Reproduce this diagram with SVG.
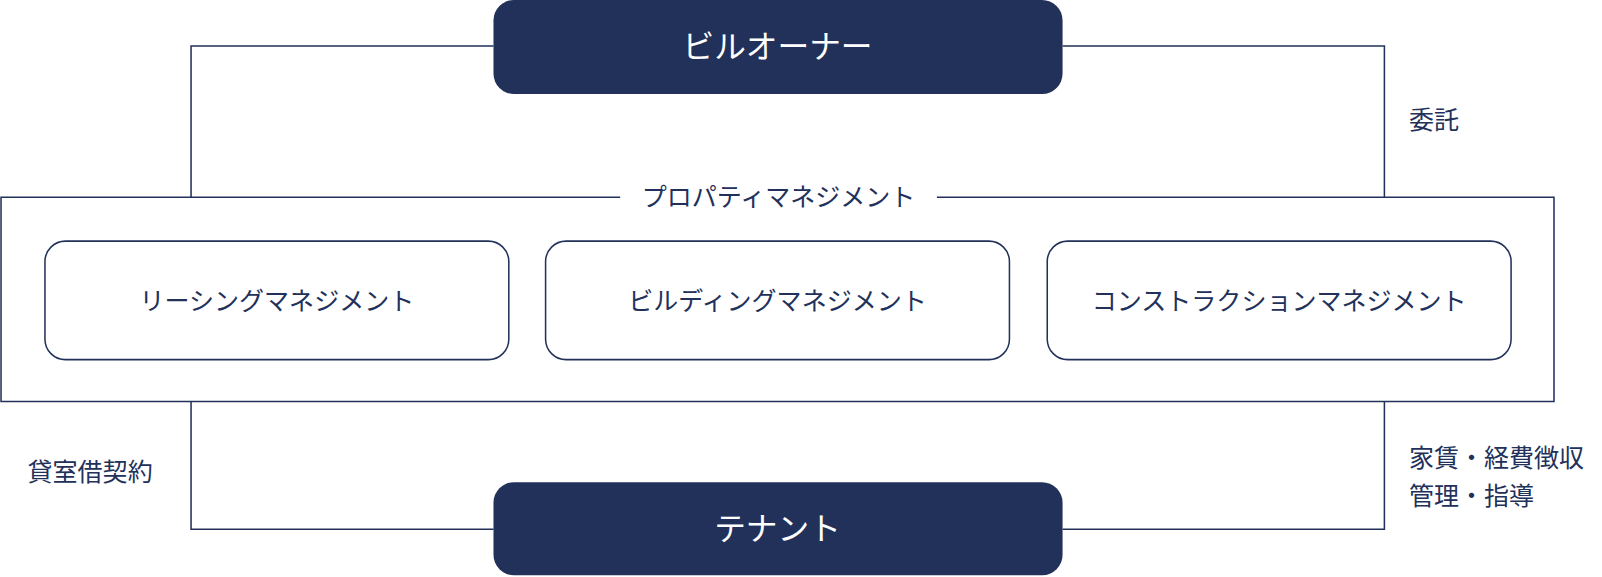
<svg xmlns="http://www.w3.org/2000/svg" width="1602" height="577" viewBox="0 0 1602 577">
<style>
text{font-family:"Noto Sans CJK JP","Noto Sans",sans-serif;fill:#22315a}
.dark{fill:#22315a}
.big{fill:#fff;font-size:31px}
.inner{fill:#fff;stroke:#22315a;stroke-width:1.5}
.lbl{font-size:24.5px}
.ln{fill:none;stroke:#22315a;stroke-width:1.5}
</style>
<rect width="1602" height="577" fill="#fff"/>
<g transform="scale(1.0217)">
<g id="connectors">
<polyline class="ln" points="483,45 187,45 187,193"/>
<polyline class="ln" points="1040,45 1355,45 1355,193"/>
<polyline class="ln" points="187,393 187,518 483,518"/>
<polyline class="ln" points="1355,393 1355,518 1040,518"/>
<text class="lbl" x="1379" y="126">委託</text>
<text class="lbl" x="27" y="471">貸室借契約</text>
<text class="lbl" x="1379" y="457">家賃・経費徴収</text>
<text class="lbl" x="1379" y="494">管理・指導</text>
</g>
<g id="pm">
<polyline class="ln" points="607,193 1,193 1,393 1521,393 1521,193 917,193"/>
<text class="lbl" x="762" y="202" text-anchor="middle">プロパティマネジメント</text>
</g>
<g id="owner"><rect class="dark" x="483" y="0" width="557" height="92" rx="20"/><text class="big" x="761" y="57" text-anchor="middle">ビルオーナー</text></g>
<g id="tenant"><rect class="dark" x="483" y="472" width="557" height="91" rx="20"/><text class="big" x="761" y="529" text-anchor="middle">テナント</text></g>
<g id="lm"><rect class="inner" x="44" y="236" width="454" height="116" rx="20"/><text class="lbl" x="271" y="303" text-anchor="middle">リーシングマネジメント</text></g>
<g id="bm"><rect class="inner" x="534" y="236" width="454" height="116" rx="20"/><text class="lbl" x="761" y="303" text-anchor="middle">ビルディングマネジメント</text></g>
<g id="cm"><rect class="inner" x="1025" y="236" width="454" height="116" rx="20"/><text class="lbl" x="1252" y="303" text-anchor="middle">コンストラクションマネジメント</text></g>
</g>
</svg>
